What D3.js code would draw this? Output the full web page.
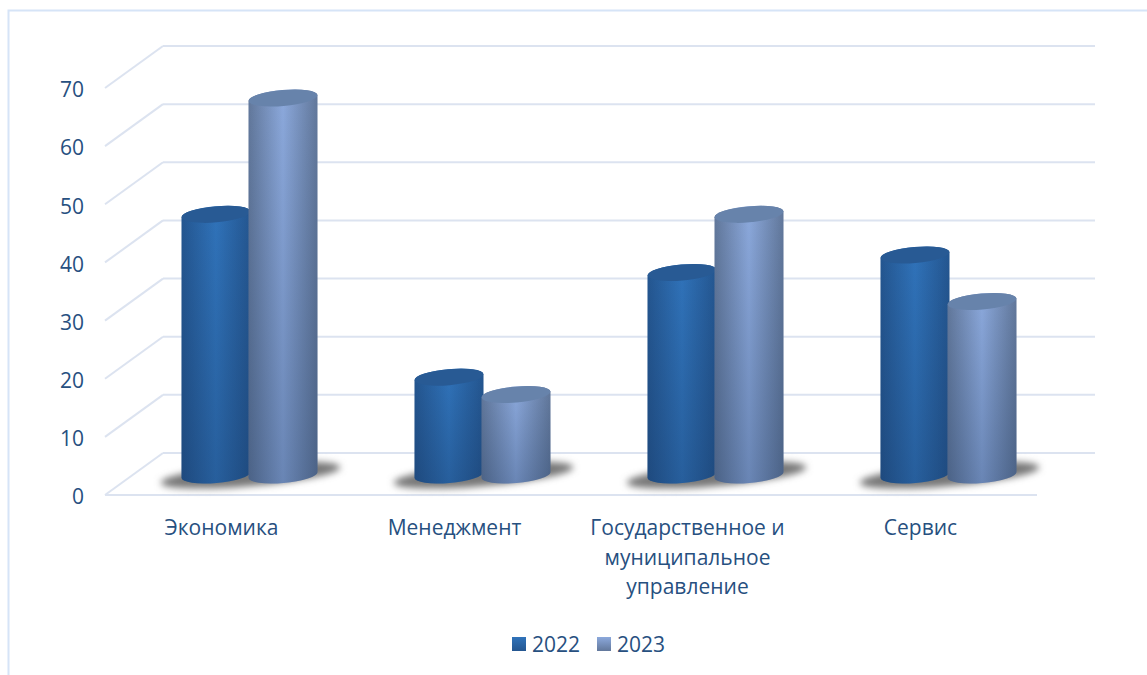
<!DOCTYPE html>
<html>
<head>
<meta charset="utf-8">
<script src="https://cdn.jsdelivr.net/npm/d3@7"></script>
<style>
  html, body { margin: 0; padding: 0; background: #fff; }
  svg { display: block; }
  text { font-family: "Open Sans", sans-serif; fill: #27507f; }
</style>
</head>
<body>
<svg id="chart" width="1147" height="675"></svg>
<script>
const categories = ["Экономика", "Менеджмент", "Государственное и муниципальное управление", "Сервис"];
const years = ["2022", "2023"];
const values2022 = [45, 17, 35, 38];
const values2023 = [65, 14, 45, 30];
const yTicks = [0, 10, 20, 30, 40, 50, 60, 70];

const svg = d3.select("#chart");
const defs = svg.append("defs");
const fontSize = 21;

// chart floor: front edge and back edge, depth is the shift between them
const depthX = 58, depthY = 42;
const frontLeft = 105, frontRight = 1037;

const yscale = d3.scaleLinear().domain([0, 70]).range([453, 46]);
// labels sit on the front edge, columns stand half way in
const xfront = d3.scaleBand().domain(categories).range([frontLeft, frontRight]);
const xmid = d3.scaleBand().domain(categories)
    .range([frontLeft + depthX / 2, frontRight + depthX / 2]);
const xbar = d3.scaleBand().domain(years).range([-68, 66]);

const series = [
    { year: "2022", values: values2022, center: "#3073ba", edge: "#245690", top: "#285a94" },
    { year: "2023", values: values2023, center: "#8ca9dc", edge: "#62789b", top: "#6783ab" }
];

series.forEach((s, i) => {
    const g = defs.append("linearGradient").attr("id", "body" + i);
    g.append("stop").attr("offset", "0%").attr("stop-color", s.edge);
    g.append("stop").attr("offset", "50%").attr("stop-color", s.center);
    g.append("stop").attr("offset", "100%").attr("stop-color", s.edge);
    const k = defs.append("linearGradient").attr("id", "key" + i)
        .attr("x1", 0).attr("x2", 0).attr("y1", 0).attr("y2", 1);
    k.append("stop").attr("offset", "0%").attr("stop-color", s.center);
    k.append("stop").attr("offset", "100%").attr("stop-color", s.edge);
});
const dim = defs.append("linearGradient").attr("id", "dim")
    .attr("x1", 0).attr("x2", 0).attr("y1", 0).attr("y2", 1);
dim.append("stop").attr("offset", "0%").attr("stop-color", "#102a50").attr("stop-opacity", 0);
dim.append("stop").attr("offset", "100%").attr("stop-color", "#102a50").attr("stop-opacity", 0.28);
defs.append("filter").attr("id", "blur")
    .attr("x", "-20%").attr("y", "-60%").attr("width", "140%").attr("height", "220%")
    .append("feGaussianBlur").attr("stdDeviation", 3.6);

// outer frame
svg.append("path")
    .attr("d", "M8.5,675V10.5H1147")
    .attr("fill", "none")
    .attr("stroke", "#d6e4f7")
    .attr("stroke-width", 2);

// gridlines: back wall, side wall
const gridColor = "#dce3f0";
const grid = svg.append("g").attr("fill", "none").attr("stroke", gridColor).attr("stroke-width", 2);
grid.selectAll(".back").data(yTicks).join("line")
    .attr("class", "back")
    .attr("x1", frontLeft + depthX).attr("x2", frontRight + depthX)
    .attr("y1", d => yscale(d)).attr("y2", d => yscale(d));
grid.selectAll(".side").data(yTicks).join("line")
    .attr("class", "side")
    .attr("x1", frontLeft).attr("x2", frontLeft + depthX)
    .attr("y1", d => yscale(d) + depthY).attr("y2", d => yscale(d));
grid.append("line")
    .attr("x1", frontLeft).attr("x2", frontRight)
    .attr("y1", yscale(0) + depthY).attr("y2", yscale(0) + depthY);

// y axis labels
const yaxis = d3.axisLeft(yscale).tickValues(yTicks).tickSize(0).tickPadding(0);
const yaxis_group = svg.append("g")
    .attr("transform", `translate(84, ${depthY + 1})`)
    .call(yaxis);
yaxis_group.select(".domain").remove();
yaxis_group.selectAll("text").attr("font-size", fontSize).attr("dy", "0.37em").style("font-family", '"Open Sans", sans-serif');

// x labels, wrapped by hand
const xlabels = svg.append("g");
const wrapWidth = 200;
categories.forEach(c => {
    const t = xlabels.append("text")
        .attr("text-anchor", "middle")
        .attr("font-size", fontSize)
        .attr("y", 535);
    let line = [];
    let span = t.append("tspan").attr("x", xfront(c) + xfront.bandwidth() / 2);
    c.split(" ").forEach(word => {
        line.push(word);
        span.text(line.join(" "));
        if (span.node().getComputedTextLength() > wrapWidth && line.length > 1) {
            line.pop();
            span.text(line.join(" "));
            line = [word];
            span = t.append("tspan")
                .attr("x", xfront(c) + xfront.bandwidth() / 2)
                .attr("dy", 29.5)
                .text(word);
        }
    });
});

// columns
const zeroY = yscale(0) + depthY / 2 + 1;
const rx = 34.5, ry = 8, tilt = -5;
const lift = rx * Math.sin(tilt * Math.PI / 180);  // right rim is higher than left rim
const columnPath = (x, yTop) =>
    `M${x - rx},${yTop - lift}` +
    `L${x - rx},${zeroY - lift}` +
    `A${rx},${ry} ${tilt} 0 0 ${x + rx},${zeroY + lift}` +
    `L${x + rx},${yTop + lift}` +
    `A${rx},${ry} ${tilt} 0 0 ${x - rx},${yTop - lift}Z`;

const groups = svg.append("g").selectAll("g").data(categories).join("g")
    .attr("transform", c => `translate(${xmid(c) + xmid.bandwidth() / 2}, 0)`);

// floor shadow under the pair
groups.append("ellipse")
    .attr("cx", 0)
    .attr("cy", zeroY)
    .attr("rx", 90)
    .attr("ry", 11)
    .attr("transform", `rotate(${tilt} 0 ${zeroY})`)
    .attr("fill", "#777777")
    .attr("filter", "url(#blur)");

series.forEach((s, i) => {
    const bars = groups.append("g")
        .attr("transform", d => `translate(${xbar(s.year) + xbar.bandwidth() / 2}, 0)`);
    const yOf = (c) => yscale(s.values[categories.indexOf(c)]) + depthY / 2 + 2;
    bars.append("path")
        .attr("d", c => columnPath(0, yOf(c)))
        .attr("fill", `url(#body${i})`);
    bars.append("path")
        .attr("d", c => columnPath(0, yOf(c)))
        .attr("fill", "url(#dim)");
    bars.append("ellipse")
        .attr("cx", 0)
        .attr("cy", c => yOf(c))
        .attr("rx", rx)
        .attr("ry", ry)
        .attr("transform", c => `rotate(${tilt} 0 ${yOf(c)})`)
        .attr("fill", s.top);
});

// legend
const legendX = d3.scaleOrdinal().domain(years).range([512, 597]);
const legend = svg.append("g").selectAll("g").data(series).join("g")
    .attr("transform", d => `translate(${legendX(d.year)}, 637)`);
legend.append("rect")
    .attr("width", 14).attr("height", 14)
    .attr("fill", (d, i) => `url(#key${i})`);
legend.append("text")
    .attr("x", 20).attr("y", 15)
    .attr("font-size", fontSize)
    .text(d => d.year);
</script>
</body>
</html>
